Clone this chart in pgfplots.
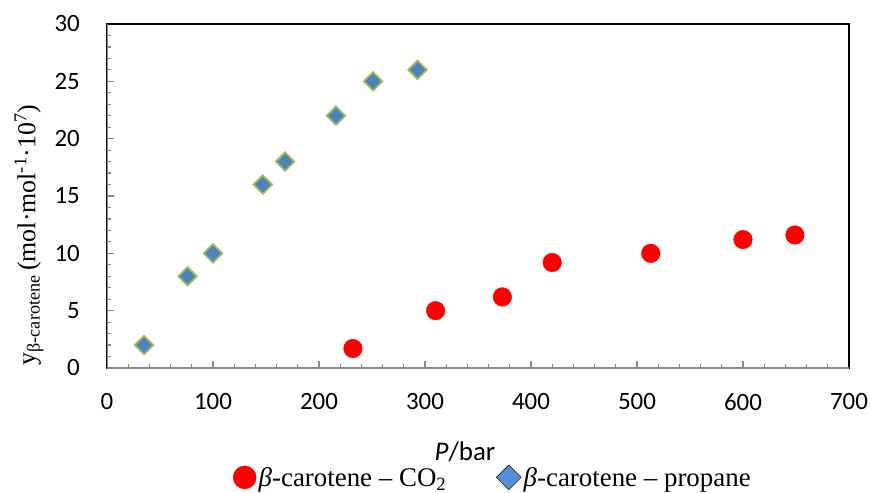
\documentclass[border=0pt]{standalone}
\usepackage{fontspec}
\setmainfont{Liberation Serif}
\setsansfont{Carlito}
\usepackage{pgfplots}
\pgfplotsset{compat=1.18}
\definecolor{cblue}{HTML}{4F81BD}
\definecolor{cgreen}{HTML}{9BBB59}
\definecolor{lblue}{HTML}{558ED5}
\definecolor{axgray}{HTML}{868686}
\newcommand\tickfont{\sffamily\fontsize{25}{30}\selectfont}
\newcommand\serfont{\rmfamily\fontsize{26}{30}\selectfont}
\newcommand\legfont{\rmfamily\fontsize{27}{30}\selectfont}
\begin{document}
\begin{tikzpicture}
\useasboundingbox (-107bp,-125bp) rectangle (763bp,368bp);
\begin{axis}[
  scale only axis, width=742bp, height=344bp,
  xmin=0, xmax=700, ymin=0, ymax=30,
  xtick={0,100,...,700}, ytick={0,5,...,30},
  minor x tick num=4, minor y tick num=4,
  tick align=inside, xtick pos=bottom, ytick pos=left,
  major tick length=7bp, minor tick length=4.5bp,
  tick style={axgray, line width=1.2bp},
  axis line style={black, line width=1.3bp},
  /pgf/number format/assume math mode=true,
  ticklabel style={font=\tickfont, inner sep=0pt},
  yticklabel style={xshift=-27bp},
  xticklabel style={yshift=-25bp},
  legend columns=2,
  legend cell align=left,
  legend image code/.code={\draw[#1] plot coordinates {(0bp,0bp)};},
  legend style={draw=none, fill=none, font=\legfont,
    at={(0.5205,-0.318)}, anchor=center,
    nodes={inner sep=2.5bp},
    /tikz/every even column/.append style={column sep=47.5bp}},
]
\draw[axgray, line width=1.8bp] (rel axis cs:0,1) -- (rel axis cs:0,0) -- (rel axis cs:1,0);
\addplot[only marks, mark=*, mark size=9.3bp, mark options={fill=red, draw=red}, forget plot]
  coordinates {(232,1.7) (310,5.0) (373,6.2) (420,9.2) (513,10.0) (600,11.2) (649,11.6)};
\addplot[only marks, mark=square*, mark size=6.5bp, mark options={rotate=45, fill=cblue, draw=cgreen, line width=1.8bp}, forget plot]
  coordinates {(35,2) (76,8) (100,10) (147,16) (168,18) (216,22) (251,25) (293,26)};
\addlegendimage{only marks, mark=*, mark size=11.5bp, mark options={fill=red, draw=red}}
\addlegendentry{\textit{β}-carotene – CO\textsubscript{2}}
\addlegendimage{only marks, mark=square*, mark size=8.8bp, mark options={rotate=45, fill=lblue, draw=none}}
\addlegendentry{\textit{β}-carotene – propane}
\end{axis}
\node[font=\sffamily\fontsize{27}{30}\selectfont] at (358bp,-84bp) {\textit{P}/bar};
\node[font=\serfont, rotate=90] at (-78bp,133bp) {y\textsubscript{β-carotene}\,(mol·mol\textsuperscript{-1}·10\textsuperscript{7})};
\end{tikzpicture}
\end{document}
